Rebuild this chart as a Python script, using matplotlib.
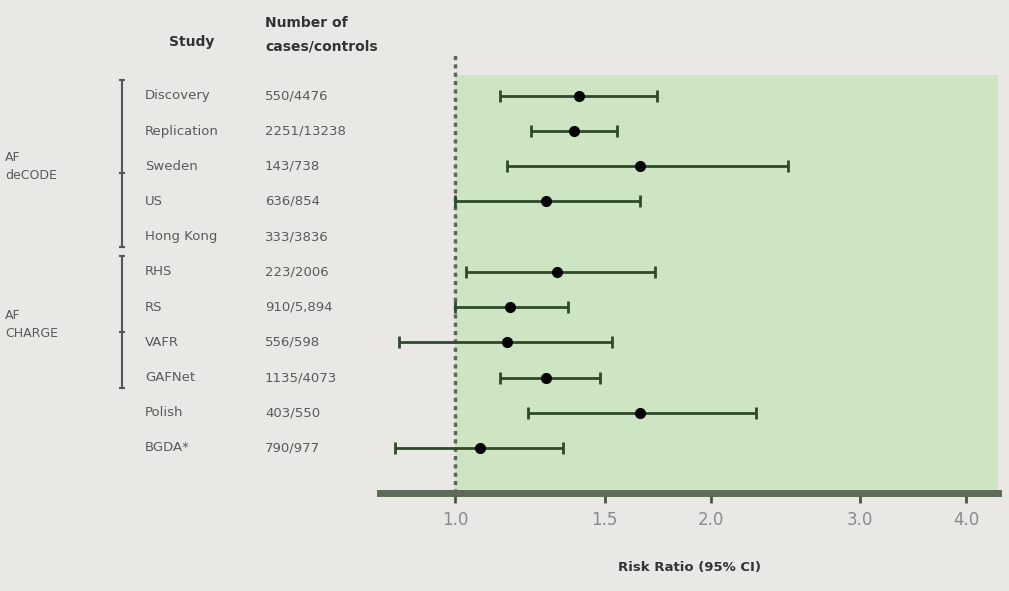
import numpy as np
import matplotlib.pyplot as plt
from matplotlib.transforms import blended_transform_factory

# data (risk ratio, 95% CI)
studies = ["Discovery", "Replication", "Sweden", "US", "Hong Kong",
           "RHS", "RS", "VAFR", "GAFNet", "Polish", "BGDA*"]
counts = ["550/4476", "2251/13238", "143/738", "636/854", "333/3836",
          "223/2006", "910/5,894", "556/598", "1135/4073", "403/550", "790/977"]
rr = [1.40, 1.38, 1.65, 1.28, np.nan, 1.32, 1.16, 1.15, 1.28, 1.65, 1.07]
ci_low = [1.13, 1.23, 1.15, 1.00, np.nan, 1.03, 1.00, 0.86, 1.13, 1.22, 0.85]
ci_high = [1.73, 1.55, 2.47, 1.65, np.nan, 1.72, 1.36, 1.53, 1.48, 2.26, 1.34]
xticks = [1.0, 1.5, 2.0, 3.0, 4.0]
groups = [("AF\ndeCODE", 0, 4), ("AF\nCHARGE", 5, 8)]

bg = "#e9e8e4"
green = "#cde5c3"
line_col = "#2e4a2b"
text_col = "#5a5a5a"

W, H = 1009, 591
fig = plt.figure(figsize=(W / 100, H / 100), dpi=100, facecolor=bg)

# axes: x 380..1000 px, y 55..493 px
ax = fig.add_axes([380 / W, 1 - 493 / H, 618 / W, 438 / H])
ax.set_facecolor(bg)
ax.set_xscale("log")
ax.set_xlim(0.816, 4.36)
ax.set_ylim(11.28, -1.16)

# green region right of 1.0
ax.axvspan(1.0, 4.36, ymin=0, ymax=(11.28 + 0.6) / (11.28 + 1.16),
           color=green, zorder=0, lw=0)

# reference line at 1.0
ax.axvline(1.0, color="#5f675b", lw=2.5, ls=(0, (1.2, 1.2)), zorder=1,
           ymin=0, ymax=1.0)

y = np.arange(len(studies))
rr_a = np.array(rr)
lo = np.array(ci_low)
hi = np.array(ci_high)
ok = ~np.isnan(rr_a)
ax.errorbar(rr_a[ok], y[ok], xerr=[rr_a[ok] - lo[ok], hi[ok] - rr_a[ok]],
            fmt="o", color="black", ms=7, ecolor=line_col, elinewidth=2,
            capsize=4, capthick=2, zorder=3)

# axis styling
for s in ["top", "right", "left"]:
    ax.spines[s].set_visible(False)
ax.spines["bottom"].set_color("#5e6b59")
ax.spines["bottom"].set_linewidth(5)
ax.set_yticks([])
ax.set_xticks(xticks)
ax.set_xticklabels([f"{t:.1f}" for t in xticks])
ax.xaxis.set_minor_locator(plt.NullLocator())
ax.tick_params(axis="x", direction="out", length=7, width=2, color="#4a5446",
               labelsize=12, labelcolor="#8a8a8a", pad=6)
ax.set_xlabel("Risk Ratio (95% CI)", fontsize=9.5, fontweight="bold",
              color="#333333", labelpad=23)

# left text columns
tr = blended_transform_factory(fig.transFigure, ax.transData)
for i, (s, c) in enumerate(zip(studies, counts)):
    ax.text(145 / W, i, s, transform=tr, ha="left", va="center",
            fontsize=9.5, color=text_col, clip_on=False)
    ax.text(265 / W, i, c, transform=tr, ha="left", va="center",
            fontsize=9.5, color=text_col, clip_on=False)

fig.text(192 / W, 1 - 42 / H, "Study", ha="center", va="center",
         fontsize=10, fontweight="bold", color="#333333")
fig.text(265 / W, 1 - 35 / H, "Number of\ncases/controls", ha="left",
         va="center", fontsize=10, fontweight="bold", color="#333333",
         linespacing=1.9)

# group brackets
for name, a, b in groups:
    ax.plot([122 / W, 122 / W], [a - 0.45, b + 0.3], transform=tr,
            color="#555555", lw=1.5, clip_on=False)
    ax.plot([122 / W] * 3, [a - 0.45, (a + b) / 2 + 0.2, b + 0.3],
            transform=tr, ls="none", marker="_", ms=5, mew=1.5,
            color="#555555", clip_on=False)
    ax.text(5 / W, (a + b) / 2, name, transform=tr, ha="left",
            va="center", fontsize=9, color=text_col, linespacing=1.5,
            clip_on=False)

fig.savefig("out.png", dpi=100, facecolor=bg)
